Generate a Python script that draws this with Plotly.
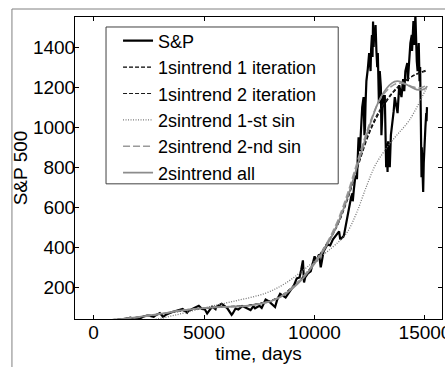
import plotly.graph_objects as go

# ---- S&P 500 index ----
sp_days = [0, 252, 504, 756, 932, 1008, 1260, 1512, 1663, 1764, 1966, 2016, 2268, 2419, 2520,
           2722, 2772, 3000, 3150, 3276, 3528, 3780, 4032, 4233, 4284, 4536, 4763, 4914, 5040,
           5141, 5292, 5368, 5519, 5544, 5796, 5972, 6048, 6250, 6300, 6426, 6552, 6728, 6804,
           7056, 7106, 7232, 7308, 7510, 7610, 7787, 7938, 8215, 8316, 8442, 8694, 8820, 8946,
           9072, 9198, 9324, 9400, 9475, 9526, 9576, 9702, 9828, 10004, 10080, 10206, 10282,
           10332, 10408, 10584, 10710, 10836, 11063, 11113, 11164, 11315, 11340,
           11403, 11466, 11529, 11592, 11655, 11718, 11731, 11781, 11844, 11907, 11920, 11970,
           11995, 12020, 12046, 12053, 12096, 12159, 12222, 12260, 12285, 12310, 12348, 12411,
           12449, 12474, 12499, 12537, 12562, 12600, 12625, 12650, 12676, 12701, 12726, 12764,
           12802, 12839, 12865, 12902, 12915, 12953, 13003, 13028, 13079, 13104, 13154, 13180,
           13243, 13268, 13306, 13331, 13381, 13406, 13457, 13507, 13583, 13633, 13709, 13759,
           13835, 13936, 14011, 14062, 14112, 14200, 14225, 14339, 14402, 14414, 14477, 14515,
           14566, 14591, 14629, 14666, 14717, 14754, 14780, 14805, 14818, 14830, 14843, 14855,
           14881, 14893, 14918, 14944, 14981, 14994, 15019, 15057, 15070, 15090]
sp_values = [17, 21, 24, 26, 23, 25, 36, 45, 49, 46, 40, 41, 55, 60, 59,
             53, 58, 72, 53, 64, 76, 85, 92, 74, 82, 96, 108, 92, 90,
             70, 94, 104, 92, 102, 118, 104, 97, 63, 70, 95, 90, 107, 104,
             90, 87, 106, 96, 108, 98, 140, 130, 102, 140, 168, 150, 170, 190,
             211, 245, 250, 290, 335, 225, 250, 270, 280, 355, 330, 365, 300,
             330, 380, 415, 410, 440, 470, 480, 440, 455, 465,
             500, 545, 585, 615, 650, 670, 630, 690, 750, 760, 740, 885,
             950, 900, 950, 880, 970, 1100, 1150, 960, 1000, 1120, 1230, 1290,
             1360, 1370, 1330, 1280, 1390, 1460, 1350, 1527, 1400, 1470, 1440, 1510,
             1380, 1300, 1370, 1150, 1120, 1280, 1200, 960, 1150, 1160, 1120, 1160,
             800, 920, 777, 930, 830, 800, 960, 1000, 1080, 1150, 1090, 1070,
             1210, 1150, 1240, 1180, 1280, 1320, 1230, 1420, 1460, 1380, 1530, 1410,
             1560, 1450, 1330, 1280, 1420, 1230, 1300, 1100, 880, 980, 750, 900,
             800, 870, 677, 820, 940, 880, 1000, 1070, 1030, 1100]

# ---- trend fits ----
trend_days = [0, 1000, 2000, 3000, 4000, 5000, 6000, 7000, 8000, 8500, 9000, 9500, 10000,
              10500, 11000, 11500, 12000, 12500, 13000, 13500, 13750, 14000, 14500, 14700,
              15000, 15100]
one_sin_iter1 = [30, 40, 51, 66, 82, 95, 103, 110, 133, 158, 200, 252, 322, 405, 500, 640,
                 815, 975, 1085, 1165, 1195, 1222, 1260, 1270, 1283, 1287]
one_sin_iter2 = [31, 41, 52, 67, 83, 96, 104, 111, 134, 160, 202, 255, 326, 410, 505, 648,
                 825, 985, 1095, 1170, 1200, 1225, 1258, 1267, 1278, 1282]
two_sin_2nd = [28, 38, 50, 67, 86, 98, 104, 110, 132, 158, 200, 255, 325, 410, 520, 670,
               850, 1020, 1145, 1205, 1218, 1218, 1200, 1195, 1205, 1215]
two_sin_all = [30, 40, 52, 68, 85, 97, 103, 108, 130, 155, 195, 248, 318, 400, 505, 650,
               830, 1010, 1150, 1220, 1230, 1222, 1193, 1186, 1192, 1205]

first_sin_days = [0, 1000, 2000, 3000, 4000, 5000, 6300, 7800, 8700, 9900, 10850, 11450,
                  11900, 12350, 12800, 13550, 14300, 15000, 15100]
two_sin_1st = [8, 14, 25, 45, 70, 98, 130, 172, 222, 322, 404, 471, 571, 704, 820, 937,
               1036, 1180, 1200]

x_ticks = [0, 5000, 10000, 15000]
y_ticks = [200, 400, 600, 800, 1000, 1200, 1400]

FONT = "Arial, 'Liberation Sans', sans-serif"

W, H = 445, 367
L, T = 75, 17           # plot area left / top
PW, PH = 366.7, 302.3   # plot area size

def px_x(wx):  # window x -> paper x
    return (wx - L) / PW

def px_y(wy):  # window y -> paper y
    return 1 - (wy - T) / PH

fig = go.Figure()
fig.add_trace(go.Scatter(x=sp_days, y=sp_values, mode="lines", name="S&P",
                         line=dict(color="black", width=2.2)))
fig.add_trace(go.Scatter(x=trend_days, y=one_sin_iter1, mode="lines", name="1sintrend 1 iteration",
                         line=dict(color="black", width=1.2, dash="4px,2px", shape="spline")))
fig.add_trace(go.Scatter(x=trend_days, y=one_sin_iter2, mode="lines", name="1sintrend 2 iteration",
                         line=dict(color="#1a1a1a", width=1.2, dash="4px,2px", shape="spline")))
fig.add_trace(go.Scatter(x=first_sin_days, y=two_sin_1st, mode="lines", name="2sintrend 1-st sin",
                         line=dict(color="#777777", width=1.3, dash="1px,1.5px", shape="spline")))
fig.add_trace(go.Scatter(x=trend_days, y=two_sin_2nd, mode="lines", name="2sintrend 2-nd sin",
                         line=dict(color="#9a9a9a", width=1.6, dash="7px,3px", shape="spline")))
fig.add_trace(go.Scatter(x=trend_days, y=two_sin_all, mode="lines", name="2sintrend all",
                         line=dict(color="#8c8c8c", width=1.8, shape="spline")))

axis_common = dict(showgrid=False, zeroline=False, showline=True, linecolor="black",
                   linewidth=1, mirror="ticks", ticks="inside", ticklen=4,
                   tickcolor="black", ticklabeloverflow="allow",
                   tickfont=dict(family=FONT, size=19, color="black"))

fig.update_xaxes(range=[-840, 15770], tickvals=x_ticks, ticktext=[str(v) for v in x_ticks],
                 ticklabelstandoff=-4,
                 title=dict(text="time, days", font=dict(family=FONT, size=19, color="black"),
                            standoff=3),
                 **axis_common)
fig.update_yaxes(range=[42.5, 1550], tickvals=y_ticks, ticktext=[str(v) for v in y_ticks],
                 ticklabelstandoff=-5,
                 title=dict(text="S&P 500", font=dict(family=FONT, size=19, color="black"),
                            standoff=0),
                 **axis_common)

# outer figure frame (only its top and left edges fall inside the picture)
frame_line = dict(color="#808080", width=1)
fig.add_shape(type="line", xref="paper", yref="paper", x0=px_x(12), x1=px_x(460),
              y0=px_y(9), y1=px_y(9), line=frame_line, layer="below")
fig.add_shape(type="line", xref="paper", yref="paper", x0=px_x(12), x1=px_x(12),
              y0=px_y(9), y1=px_y(380), line=frame_line, layer="below")
# legend box
fig.add_shape(type="rect", xref="paper", yref="paper", x0=px_x(106), x1=px_x(338),
              y0=px_y(184), y1=px_y(27),
              line=dict(color="#404040", width=1), fillcolor="white", layer="above")

fig.update_layout(
    width=W, height=H,
    margin=dict(l=L, r=W - L - PW, t=T, b=H - T - PH, autoexpand=False),
    paper_bgcolor="white", plot_bgcolor="white",
    font=dict(family=FONT, size=19, color="black"),
    legend=dict(x=px_x(118), y=px_y(22.5), xanchor="left", yanchor="top",
                bgcolor="rgba(0,0,0,0)", borderwidth=0,
                font=dict(family=FONT, size=18, color="black"),
                tracegroupgap=0),
)

fig.write_html(
    "out.html",
    config={"displayModeBar": False},
    post_script="document.body.style.margin='0';"
                "document.documentElement.style.overflow='hidden';",
)
